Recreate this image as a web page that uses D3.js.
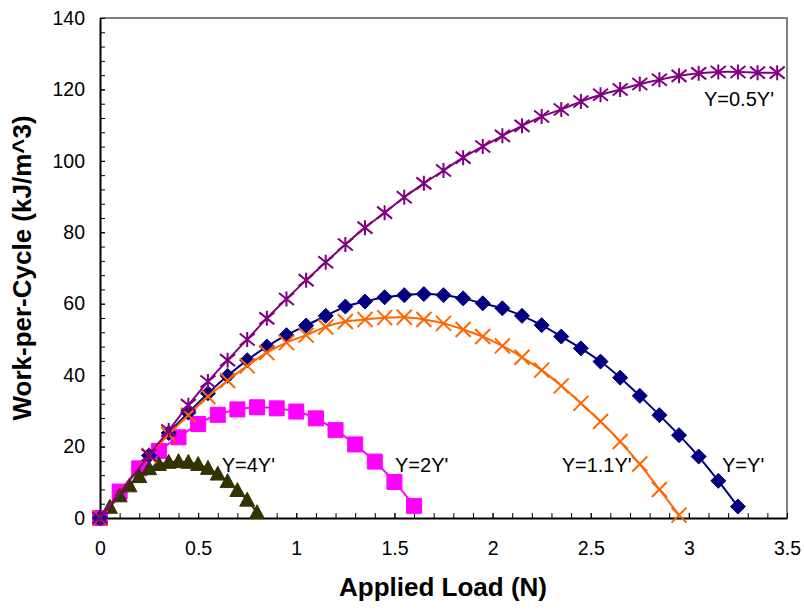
<!DOCTYPE html>
<html>
<head>
<meta charset="utf-8">
<script src="https://cdn.jsdelivr.net/npm/d3@7"></script>
<style>
  body { margin: 0; background: #fff; }
  svg { font-family: "Liberation Sans", Arial, sans-serif; }
</style>
</head>
<body>
<div id="chart"></div>
<script>
// Applied load (N) for each series
const loadHalf = [0, 0.25, 0.35, 0.45, 0.55, 0.65, 0.75, 0.85, 0.95, 1.05, 1.15, 1.25, 1.35, 1.45, 1.55, 1.65, 1.75, 1.85, 1.95, 2.05, 2.15, 2.25, 2.35, 2.45, 2.55, 2.65, 2.75, 2.85, 2.95, 3.05, 3.15, 3.25, 3.35, 3.45];
const workHalf = [0, 17.6, 24.5, 31.6, 38.2, 44.2, 50.0, 55.9, 61.3, 66.6, 71.6, 76.6, 81.3, 85.5, 89.8, 93.7, 97.3, 100.9, 104.0, 107.0, 109.8, 112.4, 114.4, 116.6, 118.5, 120.0, 121.5, 122.7, 123.8, 124.5, 124.9, 124.9, 124.7, 124.7];

const loadOne = [0, 0.25, 0.35, 0.45, 0.55, 0.65, 0.75, 0.85, 0.95, 1.05, 1.15, 1.25, 1.35, 1.45, 1.55, 1.65, 1.75, 1.85, 1.95, 2.05, 2.15, 2.25, 2.35, 2.45, 2.55, 2.65, 2.75, 2.85, 2.95, 3.05, 3.15, 3.25];
const workOne = [0, 17.5, 23.8, 29.5, 34.9, 39.8, 44.2, 48.0, 51.2, 53.9, 56.6, 59.2, 60.6, 61.8, 62.4, 62.7, 62.4, 61.5, 60.1, 58.7, 56.6, 54.0, 50.8, 47.5, 43.8, 39.3, 34.2, 28.8, 23.2, 17.2, 10.4, 3.2];

const loadOnePtOne = [0, 0.25, 0.35, 0.45, 0.55, 0.65, 0.75, 0.85, 0.95, 1.05, 1.15, 1.25, 1.35, 1.45, 1.55, 1.65, 1.75, 1.85, 1.95, 2.05, 2.15, 2.25, 2.35, 2.45, 2.55, 2.65, 2.75, 2.85, 2.95];
const workOnePtOne = [0, 17.5, 23.4, 28.8, 34.0, 38.5, 42.6, 46.3, 49.1, 51.2, 53.5, 55.0, 55.6, 56.1, 56.2, 55.6, 54.5, 52.8, 50.8, 48.2, 45.0, 41.4, 37.0, 32.1, 27.0, 21.4, 15.1, 8.0, 0.8];

const loadTwo = [0, 0.1, 0.2, 0.3, 0.4, 0.5, 0.6, 0.7, 0.8, 0.9, 1.0, 1.1, 1.2, 1.3, 1.4, 1.5, 1.6];
const workTwo = [0, 7.4, 13.9, 18.8, 22.6, 26.3, 28.9, 30.4, 31.0, 30.7, 29.8, 27.9, 24.6, 20.6, 15.8, 10.1, 3.4];

const loadFour = [0, 0.05, 0.1, 0.15, 0.2, 0.25, 0.3, 0.35, 0.4, 0.45, 0.5, 0.55, 0.6, 0.65, 0.7, 0.75, 0.8];
const workFour = [0, 3.0, 6.2, 9.0, 11.6, 13.8, 15.0, 15.6, 15.8, 15.6, 15.0, 13.9, 12.3, 10.2, 7.7, 5.0, 1.5];

const xTicks = [0, 0.5, 1, 1.5, 2, 2.5, 3, 3.5];
const yTicks = [0, 20, 40, 60, 80, 100, 120, 140];

// series labels placed next to curves (data coords of the text start / baseline)
const seriesLabels = ["Y=0.5Y'", "Y=Y'", "Y=1.1Y'", "Y=2Y'", "Y=4Y'"];
const labelX = [3.077, 3.169, 2.352, 1.503, 0.62];
const labelY = [115.4, 12.8, 12.8, 12.8, 12.8];

const width = 805, height = 611;
const margin = { top: 18, right: 18, bottom: 93, left: 100 };

const svg = d3.select('#chart').append('svg')
    .attr('width', width)
    .attr('height', height);

const x = d3.scaleLinear().domain([0, 3.5]).range([margin.left, width - margin.right]);
const y = d3.scaleLinear().domain([0, 140]).range([height - margin.bottom, margin.top]);

// frame: top/right grey
svg.append('path')
    .attr('d', `M${x(0)},${y(140)}H${x(3.5)}V${y(0)}`)
    .attr('fill', 'none')
    .attr('stroke', '#808080')
    .attr('stroke-width', 2);

// minor ticks
const xMinor = d3.range(0, 3.51, 0.1);
const yMinor = d3.range(0, 141, 4);

svg.append('g')
    .attr('transform', `translate(0,${y(0)})`)
    .call(d3.axisBottom(x).tickValues(xMinor).tickSize(-5).tickFormat(''))
    .call(g => g.select('.domain').remove());

svg.append('g')
    .attr('transform', `translate(${x(0)},0)`)
    .call(d3.axisLeft(y).tickValues(yMinor).tickSize(-5).tickFormat(''))
    .call(g => g.select('.domain').remove());

// major axes
const xAxis = svg.append('g')
    .attr('transform', `translate(0,${y(0)})`)
    .call(d3.axisBottom(x).tickValues(xTicks).tickSizeInner(-5).tickSizeOuter(0).tickPadding(23).tickFormat(d3.format('')));

const yAxis = svg.append('g')
    .attr('transform', `translate(${x(0)},0)`)
    .call(d3.axisLeft(y).tickValues(yTicks).tickSizeInner(-5).tickSizeOuter(0).tickPadding(15).tickFormat(d3.format('')));

[xAxis, yAxis].forEach(g => {
    g.select('.domain').attr('stroke', '#000').attr('stroke-width', 2);
    g.selectAll('text').attr('font-size', 19.5).attr('fill', '#000')
        .attr('font-family', '"Liberation Sans", Arial, sans-serif');
});

// axis titles
svg.append('text')
    .attr('x', 443)
    .attr('y', 596)
    .attr('text-anchor', 'middle')
    .attr('font-size', 26)
    .attr('font-weight', 'bold')
    .text('Applied Load (N)');

svg.append('text')
    .attr('transform', `translate(31,268) rotate(-90)`)
    .attr('text-anchor', 'middle')
    .attr('font-size', 26)
    .attr('font-weight', 'bold')
    .text('Work-per-Cycle (kJ/m^3)');

// marker path generators (centered at 0,0)
const markers = {
    square: s => `M${-s},${-s}H${s}V${s}H${-s}Z`,
    triangle: s => `M0,${-s * 1.05}L${s},${s * 0.8}H${-s}Z`,
    diamond: s => `M0,${-s}L${s},0L0,${s}L${-s},0Z`,
    cross: s => `M${-s},${-s}L${s},${s}M${-s},${s}L${s},${-s}`,
    star: s => `M${-s},${-s * 0.8}L${s},${s * 0.8}M${-s},${s * 0.8}L${s},${-s * 0.8}M0,${-s}V${s}`
};

const series = [
    { xs: loadTwo, ys: workTwo, color: '#FF00FF', marker: 'square', size: 7.5, filled: true },
    { xs: loadFour, ys: workFour, color: '#333300', marker: 'triangle', size: 7.5, filled: true },
    { xs: loadOne, ys: workOne, color: '#000080', marker: 'diamond', size: 7.5, filled: true },
    { xs: loadOnePtOne, ys: workOnePtOne, color: '#FF6600', marker: 'cross', size: 7.5, filled: false },
    { xs: loadHalf, ys: workHalf, color: '#800080', marker: 'star', size: 7.5, filled: false }
];

const line = d3.line()
    .x(d => x(d[0]))
    .y(d => y(d[1]))
    .curve(d3.curveCatmullRom.alpha(0.5));

series.forEach(s => {
    const pts = s.xs.map((v, i) => [v, s.ys[i]]);
    const g = svg.append('g');

    g.append('path')
        .datum(pts)
        .attr('d', line)
        .attr('fill', 'none')
        .attr('stroke', s.color)
        .attr('stroke-width', 2);

    g.selectAll('path.mk')
        .data(pts)
        .enter().append('path')
        .attr('class', 'mk')
        .attr('transform', d => `translate(${x(d[0])},${y(d[1])})`)
        .attr('d', markers[s.marker](s.size))
        .attr('fill', s.filled ? s.color : 'none')
        .attr('stroke', s.color)
        .attr('stroke-width', s.filled ? 1 : 2);
});

// series labels
svg.append('g')
    .selectAll('text')
    .data(seriesLabels)
    .enter().append('text')
    .attr('x', (d, i) => x(labelX[i]))
    .attr('y', (d, i) => y(labelY[i]))
    .attr('font-size', 20)
    .attr('fill', '#000')
    .text(d => d);
</script>
</body>
</html>
